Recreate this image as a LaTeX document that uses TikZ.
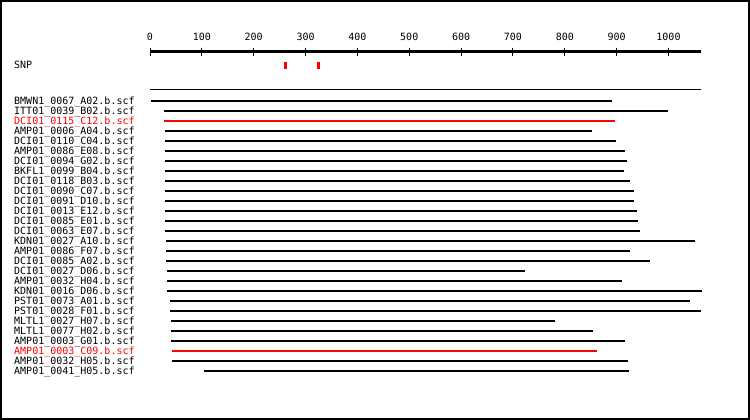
\documentclass[tikz,border=0pt]{standalone}
\usepackage{fontspec}
\newfontfamily\chartfont{DejaVu Sans Mono}
\usepackage{tikz}
\usetikzlibrary{calc,positioning}

\tikzset{
    readlabel/.style={anchor=base west, inner sep=0pt, font=\chartfont\fontsize{10}{12}\selectfont},
    ticklabel/.style={anchor=base, inner sep=0pt, font=\chartfont\fontsize{10}{12}\selectfont},
    readline/.style={line width=2pt},
    axisline/.style={line width=3pt},
    snpmark/.style={fill=red, draw=none}
}

\begin{document}
\begin{tikzpicture}[x=1pt, y=-1pt]

\useasboundingbox (0,0) rectangle (750,420);
\draw[line width=2pt] (1,1) rectangle (749,419);

% Draw the ruler
\coordinate (a0) at (150,52);
\coordinate (a1) at (701,52);
\draw[axisline] (a0) -- (a1);
\foreach \v in {0,100,...,1000} {
    \pgfmathsetmacro{\tx}{150+0.5185*\v}
    \coordinate (t\v) at (\tx,48);
    \coordinate (b\v) at (\tx,56);
    \draw[line width=1pt] (t\v) -- (b\v);
    \node[ticklabel] (n\v) at (\tx,41) {\v};
}

% SNP track
\node[readlabel] (snp) at (14,68.5) {SNP};
\fill[snpmark] (284,62) rectangle (287,69);
\fill[snpmark] (317,62) rectangle (320,69);

% separator
\coordinate (c0) at (150,90);
\coordinate (c1) at (701,90);
\draw[line width=1pt] (c0) -- (c1);

% Draw the reads (row/name/start/end/colour)
\foreach \i/\lbl/\xa/\xb/\clr in {
    1/BMWN1\_0067\_A02.b.scf/151/612/black,
    2/ITT01\_0039\_B02.b.scf/164/668/black,
    3/DCI01\_0115\_C12.b.scf/164/615/red,
    4/AMP01\_0006\_A04.b.scf/165/592/black,
    5/DCI01\_0110\_C04.b.scf/165/616/black,
    6/AMP01\_0086\_E08.b.scf/165/625/black,
    7/DCI01\_0094\_G02.b.scf/165/627/black,
    8/BKFL1\_0099\_B04.b.scf/165/624/black,
    9/DCI01\_0118\_B03.b.scf/165/630/black,
    10/DCI01\_0090\_C07.b.scf/165/634/black,
    11/DCI01\_0091\_D10.b.scf/165/634/black,
    12/DCI01\_0013\_E12.b.scf/165/637/black,
    13/DCI01\_0085\_E01.b.scf/165/638/black,
    14/DCI01\_0063\_E07.b.scf/165/640/black,
    15/KDN01\_0027\_A10.b.scf/166/695/black,
    16/AMP01\_0086\_F07.b.scf/166/630/black,
    17/DCI01\_0085\_A02.b.scf/166/650/black,
    18/DCI01\_0027\_D06.b.scf/167/525/black,
    19/AMP01\_0032\_H04.b.scf/167/622/black,
    20/KDN01\_0016\_D06.b.scf/167/702/black,
    21/PST01\_0073\_A01.b.scf/170/690/black,
    22/PST01\_0028\_F01.b.scf/170/701/black,
    23/MLTL1\_0027\_H07.b.scf/171/555/black,
    24/MLTL1\_0077\_H02.b.scf/171/593/black,
    25/AMP01\_0003\_G01.b.scf/171/625/black,
    26/AMP01\_0003\_C09.b.scf/172/597/red,
    27/AMP01\_0032\_H05.b.scf/172/628/black,
    28/AMP01\_0041\_H05.b.scf/204/629/black} {
    \pgfmathsetmacro{\ry}{90.7+10*\i}
    \node[readlabel, text=\clr] (l\i) at (14,\ry+3.6) {\lbl};
    \coordinate (s\i) at (\xa,\ry);
    \coordinate (e\i) at (\xb,\ry);
    \draw[readline, \clr] (s\i) -- (e\i);
}

\end{tikzpicture}
\end{document}
